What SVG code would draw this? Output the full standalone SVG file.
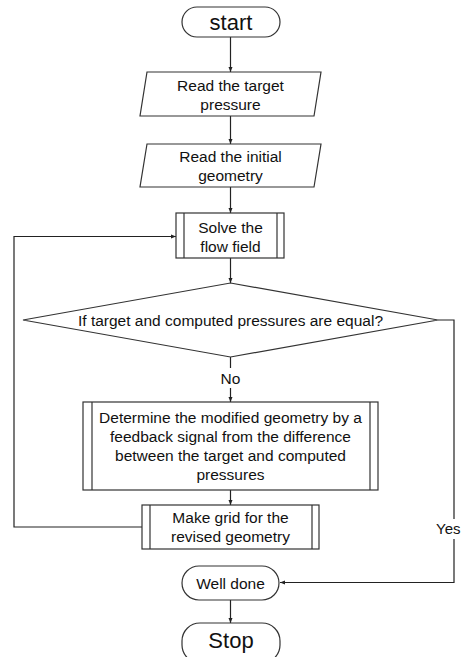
<svg xmlns="http://www.w3.org/2000/svg" width="464" height="657" viewBox="0 0 464 657">
<style>
.s{fill:#fff;stroke:#333;stroke-width:1.2}
.l{fill:none;stroke:#222;stroke-width:1.2}
text{font-family:"Liberation Sans",Arial,sans-serif;font-size:15.5px;fill:#111;text-anchor:middle}
.big{font-size:22px}
</style>
<defs>
<marker id="a" viewBox="0 0 10 10" refX="10" refY="5" markerWidth="5" markerHeight="5" orient="auto" markerUnits="userSpaceOnUse">
<path d="M0,1 L10,5 L0,9 z" fill="#222"/>
</marker>
</defs>
<rect width="464" height="657" fill="#fff"/>
<g id="connectors">
<line class="l" x1="230.5" y1="37" x2="230.5" y2="72" marker-end="url(#a)"/>
<line class="l" x1="230.5" y1="116" x2="230.5" y2="144" marker-end="url(#a)"/>
<line class="l" x1="230.5" y1="187" x2="230.5" y2="213" marker-end="url(#a)"/>
<line class="l" x1="230.5" y1="258" x2="230.5" y2="283" marker-end="url(#a)"/>
<line class="l" x1="230.5" y1="357" x2="230.5" y2="368"/>
<line class="l" x1="230.5" y1="388" x2="230.5" y2="402" marker-end="url(#a)"/>
<line class="l" x1="230.5" y1="490" x2="230.5" y2="505" marker-end="url(#a)"/>
<polyline class="l" points="142,527 14,527 14,236.5 176,236.5" marker-end="url(#a)"/>
<polyline class="l" points="438,320 454,320 454,519"/>
<polyline class="l" points="454,539 454,582.5 280,582.5" marker-end="url(#a)"/>
<line class="l" x1="230.5" y1="600" x2="230.5" y2="623" marker-end="url(#a)"/>
<text x="230.5" y="384">No</text>
<text x="436" y="534" style="text-anchor:start;font-size:15px">Yes</text>
</g>
<g id="start">
<rect class="s" x="182" y="7" width="98" height="30" rx="15"/>
<text class="big" x="231" y="30">start</text>
</g>
<g id="read-target">
<polygon class="s" points="147,72 321,72 314,116 140,116"/>
<text x="230.5" y="90.5">Read the target</text>
<text x="230.5" y="109.5">pressure</text>
</g>
<g id="read-geometry">
<polygon class="s" points="147,144 321,144 314,187 140,187"/>
<text x="230.5" y="161.5">Read the initial</text>
<text x="230.5" y="180.5">geometry</text>
</g>
<g id="solve">
<rect class="s" x="176" y="213" width="108" height="45"/>
<line class="s" x1="184" y1="213" x2="184" y2="258"/>
<line class="s" x1="277" y1="213" x2="277" y2="258"/>
<text x="230.5" y="232.5">Solve the</text>
<text x="230.5" y="251.5">flow field</text>
</g>
<g id="decision">
<polygon class="s" points="230.5,283 438,320 230.5,357 23,320"/>
<text x="230.5" y="325.5">If target and computed pressures are equal?</text>
</g>
<g id="determine">
<rect class="s" x="83" y="402" width="295" height="88"/>
<line class="s" x1="92" y1="402" x2="92" y2="490"/>
<line class="s" x1="370" y1="402" x2="370" y2="490"/>
<text x="230.5" y="423">Determine the modified geometry by a</text>
<text x="230.5" y="442">feedback signal from the difference</text>
<text x="230.5" y="461">between the target and computed</text>
<text x="230.5" y="480">pressures</text>
</g>
<g id="grid">
<rect class="s" x="142" y="505" width="177" height="44"/>
<line class="s" x1="150" y1="505" x2="150" y2="549"/>
<line class="s" x1="312" y1="505" x2="312" y2="549"/>
<text x="230.5" y="523">Make grid for the</text>
<text x="230.5" y="542">revised geometry</text>
</g>
<g id="well-done">
<rect class="s" x="182" y="566" width="97" height="34" rx="17"/>
<text x="230.5" y="588.5">Well done</text>
</g>
<g id="stop">
<rect class="s" x="182" y="623" width="98" height="40" rx="18"/>
<text class="big" x="231" y="648">Stop</text>
</g>
</svg>
